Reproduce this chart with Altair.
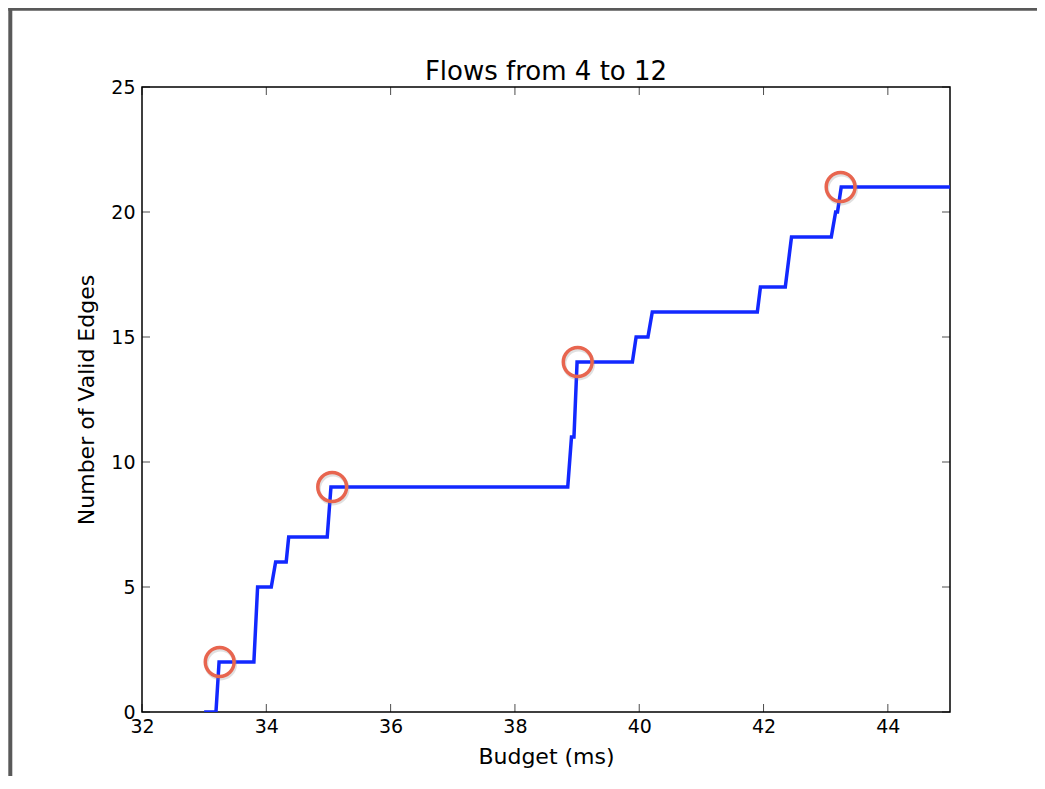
import altair as alt
import pandas as pd

# Step curve vertices
budget = [33.0, 33.19, 33.24, 33.80, 33.86, 34.08, 34.15, 34.32, 34.36, 34.98, 35.04,
          38.85, 38.91, 38.95, 39.0, 39.89, 39.95, 40.14, 40.21, 41.90, 41.95, 42.35,
          42.45, 43.09, 43.16, 43.19, 43.25, 45.0]
edges = [0, 0, 2, 2, 5, 5, 6, 6, 7, 7, 9,
         9, 11, 11, 14, 14, 15, 15, 16, 16, 17, 17,
         19, 19, 20, 20, 21, 21]

# Highlighted points (red circles)
mark_x = [33.25, 35.06, 39.01, 43.24]
mark_y = [2, 9, 14, 21]

x_ticks = [32, 34, 36, 38, 40, 42, 44]
y_ticks = [0, 5, 10, 15, 20, 25]

chart_title = ["Flows from 4 to 12"]

W, H = 808, 625
FONT = "DejaVu Sans"

line_df = pd.DataFrame({"budget": budget, "edges": edges, "order": list(range(len(budget)))})
pts_df = pd.DataFrame({"budget": mark_x, "edges": mark_y})
xt_df = pd.DataFrame({"budget": x_ticks})
yt_df = pd.DataFrame({"edges": y_ticks})
title_df = pd.DataFrame({"t": chart_title})

xscale = alt.Scale(domain=[32, 45], nice=False, zero=False)
yscale = alt.Scale(domain=[0, 25], nice=False, zero=False)

XT = "Budget (ms)"
YT = "Number of Valid Edges"

line = alt.Chart(line_df).mark_line(color="#1228ff", strokeWidth=3.5, clip=True).encode(
    x=alt.X("budget:Q", scale=xscale, title=XT,
            axis=alt.Axis(values=x_ticks, format="d", ticks=False, domain=False,
                          grid=False, labelFontSize=19, labelFont=FONT, labelColor="black",
                          labelPadding=5, titleFont=FONT, titleFontSize=22,
                          titleFontWeight="normal", titleColor="black", titlePadding=10,
                          labelFlush=False)),
    y=alt.Y("edges:Q", scale=yscale, title=YT,
            axis=alt.Axis(values=y_ticks, format="d", ticks=False,
                          domain=False, grid=False, labelFontSize=19, labelFont=FONT,
                          labelColor="black", labelPadding=7, titleFont=FONT,
                          titleFontSize=22, titleFontWeight="normal", titleColor="black",
                          titlePadding=12, labelFlush=False)),
    order="order:Q",
)

shadow = alt.Chart(pts_df).mark_point(shape="circle", size=830, filled=False, color="#888888",
                                      opacity=0.25, strokeWidth=4, xOffset=1, yOffset=2).encode(
    x=alt.X("budget:Q", scale=xscale, title=XT),
    y=alt.Y("edges:Q", scale=yscale, title=YT),
)

circles = alt.Chart(pts_df).mark_point(shape="circle", size=830, filled=False, color="#e8654f",
                                       opacity=1, strokeWidth=3.5).encode(
    x=alt.X("budget:Q", scale=xscale, title=XT),
    y=alt.Y("edges:Q", scale=yscale, title=YT),
)

tick_kw = dict(color="black", thickness=1, size=8)
xt_bottom = alt.Chart(xt_df).mark_tick(**tick_kw).encode(
    x=alt.X("budget:Q", scale=xscale, title=XT), y=alt.value(H - 4))
xt_top = alt.Chart(xt_df).mark_tick(**tick_kw).encode(
    x=alt.X("budget:Q", scale=xscale, title=XT), y=alt.value(4))
yt_left = alt.Chart(yt_df).mark_tick(**tick_kw).encode(
    y=alt.Y("edges:Q", scale=yscale, title=YT), x=alt.value(4))
yt_right = alt.Chart(yt_df).mark_tick(**tick_kw).encode(
    y=alt.Y("edges:Q", scale=yscale, title=YT), x=alt.value(W - 4))

title_text = alt.Chart(title_df).mark_text(font=FONT, fontSize=26, color="black",
                                           align="center", baseline="alphabetic").encode(
    text="t:N", x=alt.value(W / 2), y=alt.value(-7))

# window frame decoration (dark border at top-left of the screenshot)
border_left = alt.Chart(pd.DataFrame({"a": [0]})).mark_rule(color="#595959", strokeWidth=4).encode(
    x=alt.value(-131.7), y=alt.value(-79), y2=alt.value(720))
border_top = alt.Chart(pd.DataFrame({"a": [0]})).mark_rule(color="#595959", strokeWidth=3).encode(
    y=alt.value(-77.7), x=alt.value(-133.7), x2=alt.value(920))

chart = alt.layer(
    line, shadow, circles, xt_bottom, xt_top, yt_left, yt_right, title_text,
    border_left, border_top
).properties(
    width=W, height=H,
    autosize=alt.AutoSizeParams(type="none"),
    padding={"left": 134, "top": 79, "right": 87, "bottom": 64},
    background="white",
).configure_view(stroke="black", strokeWidth=1.5)

chart.save("out.html", embed_options={"renderer": "svg", "actions": False})
